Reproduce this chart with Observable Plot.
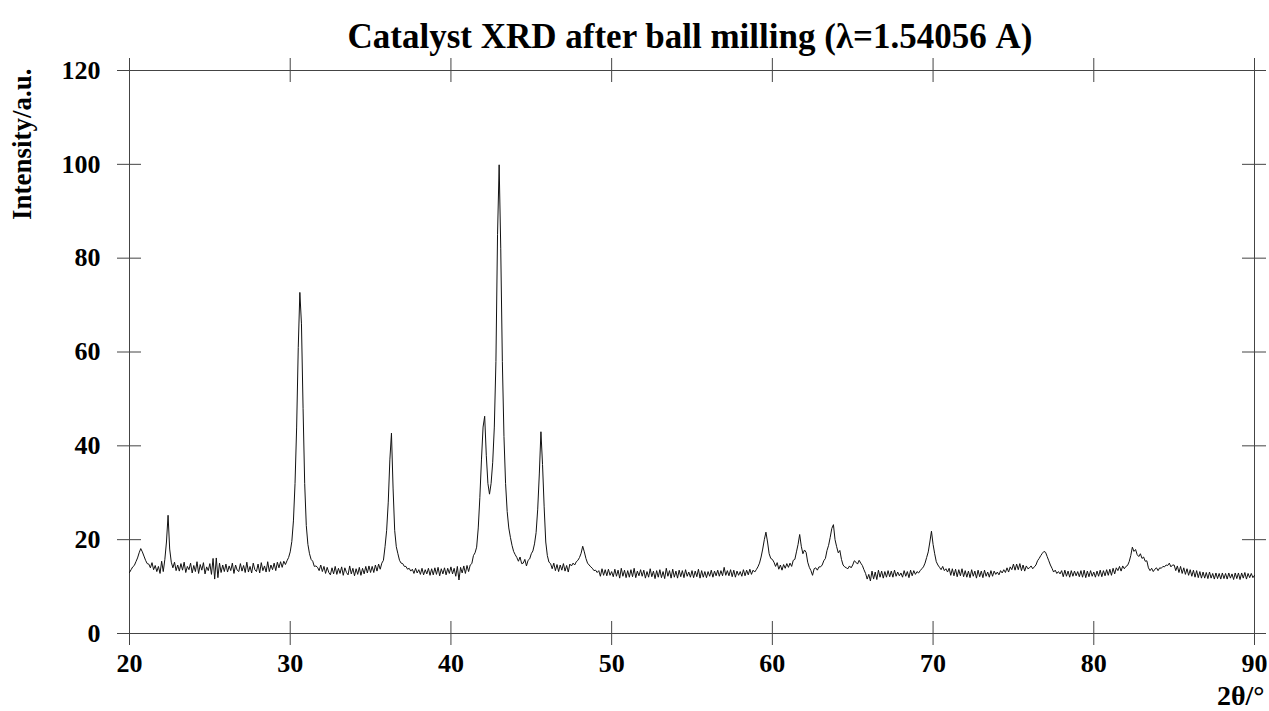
<!DOCTYPE html>
<html>
<head>
<meta charset="utf-8">
<script src="https://cdn.jsdelivr.net/npm/d3@7"></script>
<script src="https://cdn.jsdelivr.net/npm/@observablehq/plot@0.6"></script>
<style>
  html, body { margin: 0; padding: 0; background: #fff; }
  #chart svg { display: block; }
</style>
</head>
<body>
<div id="chart"></div>
<script>
// ---- Text ----
const titleText = "Catalyst XRD after ball milling (λ=1.54056 A)";
const xLabelText = "2θ/°";
const yLabelText = "Intensity/a.u.";

// ---- Tick values ----
const xTicks = [20, 30, 40, 50, 60, 70, 80, 90];
const yTicks = [0, 20, 40, 60, 80, 100, 120];

// ---- Scan: 2θ from 20° to 90°, step 0.1°; one row per degree (10 readings each) ----
const scanStart = 20;
const scanStep = 0.1;
const intensityRows = [
  /* 20 */ [13.0, 13.6, 14.2, 14.5, 15.3, 16.1, 17.2, 18.1, 17.4, 16.5],
  /* 21 */ [15.6, 14.9, 14.8, 14.0, 15.1, 13.6, 14.5, 13.2, 14.3, 12.8],
  /* 22 */ [15.4, 13.2, 15.8, 19.5, 25.2, 18.0, 15.2, 14.0, 15.2, 13.4],
  /* 23 */ [14.6, 13.3, 14.9, 13.5, 15.2, 13.0, 14.3, 13.6, 15.0, 12.9],
  /* 24 */ [14.5, 13.2, 15.3, 12.8, 14.7, 13.5, 15.1, 12.7, 14.2, 13.4],
  /* 25 */ [14.9, 12.6, 16.0, 11.6, 16.1, 11.9, 15.0, 13.0, 14.6, 13.2],
  /* 26 */ [14.8, 13.1, 14.4, 13.4, 15.0, 12.8, 14.6, 13.5, 13.2, 14.9],
  /* 27 */ [13.3, 14.5, 13.0, 15.2, 13.1, 14.3, 12.9, 15.0, 13.6, 13.2],
  /* 28 */ [14.8, 12.9, 15.1, 13.4, 14.4, 13.1, 15.3, 13.2, 14.6, 13.6],
  /* 29 */ [15.0, 13.4, 15.2, 14.0, 15.3, 14.1, 15.4, 14.7, 15.5, 16.2],
  /* 30 */ [17.4, 19.6, 24.0, 32.0, 44.0, 61.0, 72.7, 66.0, 48.0, 32.0],
  /* 31 */ [23.0, 19.0, 17.0, 15.8, 15.4, 14.3, 14.4, 14.1, 13.4, 14.6],
  /* 32 */ [13.2, 14.3, 12.8, 14.1, 13.0, 12.5, 14.0, 12.7, 14.3, 12.6],
  /* 33 */ [13.9, 12.8, 14.2, 12.4, 14.0, 13.0, 12.5, 14.4, 12.7, 13.9],
  /* 34 */ [12.3, 13.8, 12.6, 14.1, 12.4, 13.9, 12.7, 14.3, 12.9, 14.4],
  /* 35 */ [13.0, 14.3, 13.0, 14.6, 13.3, 14.8, 13.7, 15.0, 15.6, 18.5],
  /* 36 */ [22.0, 28.0, 37.0, 42.7, 31.0, 22.0, 18.5, 17.0, 15.6, 15.0],
  /* 37 */ [14.9, 14.3, 14.3, 13.7, 13.9, 13.3, 13.7, 12.8, 13.9, 12.9],
  /* 38 */ [13.6, 12.6, 13.9, 12.5, 13.6, 12.7, 13.9, 12.4, 13.8, 12.5],
  /* 39 */ [14.0, 12.6, 14.1, 12.3, 13.8, 12.7, 14.0, 12.5, 13.9, 12.8],
  /* 40 */ [14.2, 12.7, 13.9, 12.2, 14.3, 11.4, 14.1, 12.9, 14.4, 12.8],
  /* 41 */ [14.5, 13.2, 14.6, 14.9, 16.6, 17.2, 18.4, 22.5, 29.0, 37.0],
  /* 42 */ [44.0, 46.3, 38.0, 32.0, 29.7, 32.0, 36.5, 44.0, 58.0, 85.0],
  /* 43 */ [99.9, 82.0, 58.0, 42.0, 32.0, 26.0, 22.5, 20.5, 18.8, 17.5],
  /* 44 */ [16.8, 16.2, 15.4, 16.3, 14.9, 15.0, 15.8, 14.4, 15.6, 15.9],
  /* 45 */ [17.0, 17.6, 19.1, 21.5, 26.5, 34.0, 43.0, 36.0, 27.0, 19.5],
  /* 46 */ [16.6, 15.2, 14.9, 13.8, 15.0, 13.4, 14.7, 13.2, 14.6, 13.5],
  /* 47 */ [14.9, 13.3, 14.5, 13.1, 14.8, 14.4, 15.0, 14.6, 15.3, 15.6],
  /* 48 */ [16.2, 17.1, 18.6, 17.4, 16.0, 15.0, 14.6, 14.2, 13.9, 13.4],
  /* 49 */ [13.5, 13.0, 13.4, 12.2, 13.8, 12.4, 13.6, 12.3, 13.7, 12.4],
  /* 50 */ [13.2, 12.1, 13.7, 12.2, 13.5, 11.8, 13.9, 12.2, 13.5, 11.9],
  /* 51 */ [13.4, 12.0, 13.6, 12.1, 13.9, 11.9, 13.3, 12.3, 13.6, 12.2],
  /* 52 */ [13.5, 11.8, 13.2, 12.0, 13.8, 12.1, 13.3, 11.7, 13.4, 12.0],
  /* 53 */ [13.6, 11.9, 13.2, 11.7, 13.9, 12.2, 13.4, 11.8, 13.7, 12.0],
  /* 54 */ [13.3, 11.8, 13.5, 12.1, 13.4, 11.9, 13.6, 12.2, 13.1, 12.0],
  /* 55 */ [13.4, 11.9, 13.3, 12.1, 13.7, 11.8, 13.4, 12.0, 13.2, 11.9],
  /* 56 */ [13.2, 12.2, 13.5, 12.0, 13.3, 12.3, 13.5, 12.2, 13.4, 12.3],
  /* 57 */ [14.1, 12.4, 13.4, 12.3, 13.6, 12.1, 13.5, 12.0, 13.3, 12.4],
  /* 58 */ [13.2, 12.2, 13.6, 12.3, 13.5, 12.5, 13.7, 12.6, 13.5, 13.1],
  /* 59 */ [13.6, 14.2, 15.0, 16.3, 18.0, 20.0, 21.6, 19.5, 17.0, 16.0],
  /* 60 */ [15.8, 15.2, 14.3, 15.1, 13.7, 14.6, 13.5, 14.7, 13.9, 14.9],
  /* 61 */ [14.1, 15.0, 14.3, 15.6, 15.8, 17.4, 19.0, 21.1, 18.6, 17.0],
  /* 62 */ [17.8, 17.3, 15.2, 14.1, 13.4, 12.4, 13.8, 14.0, 13.5, 14.2],
  /* 63 */ [14.2, 14.6, 15.5, 16.0, 17.7, 18.8, 20.5, 22.4, 23.2, 20.0],
  /* 64 */ [18.5, 17.2, 17.7, 15.8, 14.6, 14.2, 14.0, 13.8, 14.4, 14.0],
  /* 65 */ [14.6, 15.5, 15.2, 14.8, 15.6, 15.0, 14.5, 13.6, 12.8, 11.6],
  /* 66 */ [12.6, 11.2, 13.3, 11.6, 13.1, 11.5, 13.5, 12.0, 13.3, 11.8],
  /* 67 */ [13.2, 12.0, 13.4, 12.1, 13.3, 12.0, 13.5, 12.2, 13.1, 12.3],
  /* 68 */ [12.9, 12.0, 13.4, 12.2, 13.2, 11.9, 13.5, 12.3, 13.4, 12.6],
  /* 69 */ [13.2, 12.9, 13.4, 13.8, 14.2, 15.0, 16.2, 17.4, 19.5, 21.8],
  /* 70 */ [19.0, 17.0, 15.3, 14.6, 14.1, 13.6, 14.3, 13.4, 13.8, 13.1],
  /* 71 */ [13.9, 12.4, 13.8, 12.3, 13.7, 12.1, 13.6, 12.3, 13.8, 12.1],
  /* 72 */ [13.4, 12.0, 13.3, 11.9, 13.6, 12.2, 13.3, 11.8, 13.5, 12.1],
  /* 73 */ [13.3, 11.9, 13.5, 12.2, 13.1, 12.0, 13.4, 12.2, 13.3, 12.6],
  /* 74 */ [13.1, 12.5, 13.4, 12.9, 13.6, 13.0, 14.0, 13.1, 14.2, 13.6],
  /* 75 */ [14.8, 13.5, 14.8, 13.6, 14.9, 13.4, 14.6, 13.3, 14.4, 13.8],
  /* 76 */ [14.0, 14.4, 13.8, 14.2, 14.6, 15.5, 16.0, 16.6, 17.1, 17.5],
  /* 77 */ [17.3, 16.4, 15.5, 14.6, 13.9, 13.1, 13.5, 12.8, 13.2, 12.7],
  /* 78 */ [13.4, 12.1, 13.5, 12.2, 13.3, 12.0, 13.4, 12.2, 13.3, 12.3],
  /* 79 */ [13.2, 12.1, 13.4, 12.0, 13.5, 11.9, 13.3, 12.1, 13.4, 12.2],
  /* 80 */ [13.1, 12.0, 13.3, 12.2, 13.5, 12.1, 13.4, 12.3, 13.6, 12.4],
  /* 81 */ [13.7, 12.4, 13.9, 12.7, 14.0, 13.4, 14.3, 13.3, 14.4, 13.8],
  /* 82 */ [14.3, 14.5, 15.3, 16.6, 18.4, 17.5, 17.9, 16.8, 16.4, 17.0],
  /* 83 */ [16.0, 16.3, 15.4, 15.5, 14.0, 13.4, 13.9, 13.2, 13.7, 14.0],
  /* 84 */ [13.4, 14.0, 13.9, 14.3, 14.2, 14.6, 14.5, 15.0, 14.2, 14.6],
  /* 85 */ [14.6, 13.4, 14.4, 13.0, 14.3, 12.8, 14.0, 12.6, 13.8, 12.4],
  /* 86 */ [13.6, 12.2, 13.5, 12.0, 13.4, 11.9, 13.2, 11.8, 13.1, 11.8],
  /* 87 */ [13.0, 11.7, 13.1, 11.8, 12.8, 11.6, 12.9, 11.7, 12.8, 11.6],
  /* 88 */ [12.9, 11.7, 12.8, 11.6, 12.9, 11.8, 12.7, 11.5, 12.9, 11.7],
  /* 89 */ [12.9, 11.5, 12.9, 11.8, 13.0, 11.6, 12.8, 11.9, 12.8, 11.9]
];
const scanEndAngle = 90;
const scanEndIntensity = 12.4;

// Build the (2θ, I) table from the rows
const points = [];
intensityRows.forEach((row, r) => {
  row.forEach((v, j) => {
    points.push({ twoTheta: +(scanStart + r + j * scanStep).toFixed(2), intensity: v });
  });
});
points.push({ twoTheta: scanEndAngle, intensity: scanEndIntensity });

// ---- Layout ----
const W = 1269, H = 711;
const mL = 129, mR = 15, mT = 70, mB = 78;
const pw = W - mL - mR, ph = H - mT - mB;
const ext = 12;            // how far frame lines/ticks poke out
const frameColor = "#444";
const font = "'Liberation Serif', 'Times New Roman', Times, serif";

const chart = Plot.plot({
  width: W,
  height: H,
  marginLeft: mL,
  marginRight: mR,
  marginTop: mT,
  marginBottom: mB,
  style: { fontFamily: font, fontWeight: "bold", fontSize: "26px", color: "#000", background: "#fff" },
  x: { domain: [20, 90] },
  y: { domain: [0, 120] },
  marks: [
    // tick marks crossing the frame (left, right, bottom, top)
    Plot.ruleY(yTicks, { y: d => d, stroke: frameColor, insetLeft: -ext, insetRight: pw - ext }),
    Plot.ruleY(yTicks, { y: d => d, stroke: frameColor, insetLeft: pw - ext, insetRight: -ext }),
    Plot.ruleX(xTicks, { x: d => d, stroke: frameColor, insetTop: ph - ext, insetBottom: -ext }),
    Plot.ruleX(xTicks, { x: d => d, stroke: frameColor, insetTop: -ext, insetBottom: ph - ext }),
    // frame lines extending past the corners
    Plot.ruleY([0, 120], { y: d => d, stroke: frameColor, insetLeft: -ext, insetRight: -ext }),
    Plot.ruleX([20, 90], { x: d => d, stroke: frameColor, insetTop: -ext, insetBottom: -ext }),
    // tick labels
    Plot.axisX(xTicks, { tickSize: 0, tickPadding: 20, label: null, fontSize: 26, fontWeight: "bold", tickFormat: d => String(d) }),
    Plot.axisY(yTicks, { tickSize: 0, tickPadding: 29, label: null, fontSize: 26, fontWeight: "bold", tickFormat: d => String(d) }),
    // the diffractogram
    Plot.line(points, { x: "twoTheta", y: "intensity", stroke: "#111", strokeWidth: 1 }),
    // titles
    Plot.text([titleText], { text: d => d, frameAnchor: "top", dy: -23, lineAnchor: "bottom", fontSize: 35, fontWeight: "bold", fill: "#000", dx: -2 }),
    Plot.text([yLabelText], { text: d => d, frameAnchor: "top-left", rotate: -90, textAnchor: "end", dx: 11 - mL, dy: -2, fontSize: 27, fontWeight: "bold", fill: "#000" }),
    Plot.text([xLabelText], { text: d => d, frameAnchor: "bottom-right", textAnchor: "end", lineAnchor: "bottom", dx: 10, dy: 71, fontSize: 28, fontWeight: "bold", fill: "#000" })
  ]
});

document.getElementById("chart").appendChild(chart);
</script>
</body>
</html>
